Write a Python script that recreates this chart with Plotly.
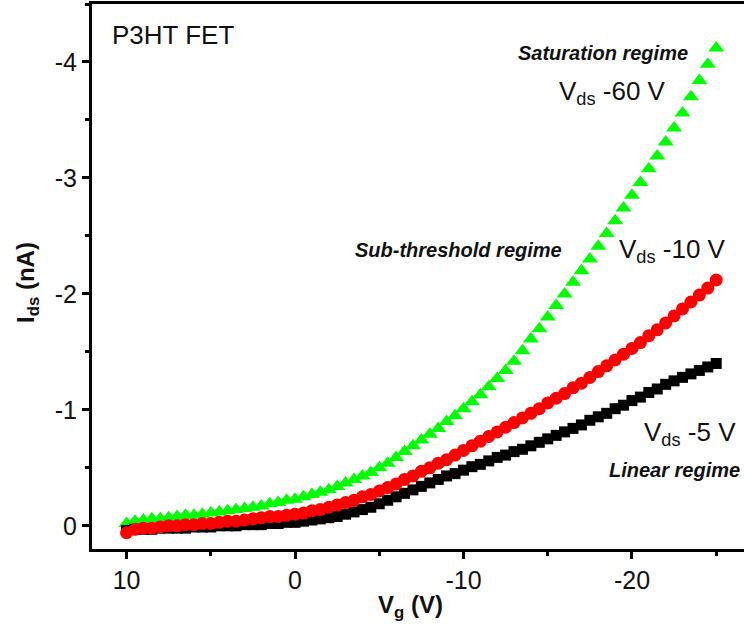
import plotly.graph_objects as go

# Gate voltage sweep (V)
vg = [10.0, 9.5, 9.0, 8.5, 8.0, 7.5, 7.0, 6.5, 6.0, 5.5, 5.0, 4.5, 4.0, 3.5, 3.0, 2.5,
      2.0, 1.5, 1.0, 0.5, 0.0, -0.5, -1.0, -1.5, -2.0, -2.5, -3.0, -3.5, -4.0, -4.5,
      -5.0, -5.5, -6.0, -6.5, -7.0, -7.5, -8.0, -8.5, -9.0, -9.5, -10.0, -10.5, -11.0,
      -11.5, -12.0, -12.5, -13.0, -13.5, -14.0, -14.5, -15.0, -15.5, -16.0, -16.5,
      -17.0, -17.5, -18.0, -18.5, -19.0, -19.5, -20.0, -20.5, -21.0, -21.5, -22.0,
      -22.5, -23.0, -23.5, -24.0, -24.5, -25.0]

# Ids (nA) at Vds = -60 V (saturation)
ids_60 = [-0.02, -0.04, -0.05, -0.06, -0.06, -0.07, -0.08, -0.09, -0.09, -0.10, -0.11,
          -0.12, -0.13, -0.14, -0.15, -0.16, -0.17, -0.19, -0.20, -0.22, -0.23, -0.25,
          -0.27, -0.29, -0.31, -0.34, -0.37, -0.40, -0.43, -0.46, -0.50, -0.54, -0.59,
          -0.64, -0.69, -0.74, -0.79, -0.84, -0.90, -0.95, -1.01, -1.07, -1.13, -1.20,
          -1.27, -1.34, -1.42, -1.51, -1.61, -1.70, -1.80, -1.90, -2.00, -2.10, -2.20,
          -2.30, -2.41, -2.52, -2.63, -2.74, -2.85, -2.96, -3.08, -3.19, -3.31, -3.43,
          -3.56, -3.70, -3.84, -3.98, -4.12]

# Ids (nA) at Vds = -10 V
ids_10 = [0.06, 0.03, 0.02, 0.02, 0.01, 0.00, 0.00, -0.01, -0.01, -0.02, -0.02, -0.03,
          -0.04, -0.04, -0.05, -0.06, -0.07, -0.08, -0.08, -0.09, -0.10, -0.11, -0.13,
          -0.14, -0.16, -0.18, -0.20, -0.22, -0.25, -0.27, -0.30, -0.33, -0.36, -0.40,
          -0.43, -0.47, -0.50, -0.54, -0.57, -0.61, -0.65, -0.69, -0.73, -0.77, -0.81,
          -0.85, -0.89, -0.93, -0.97, -1.01, -1.06, -1.10, -1.14, -1.19, -1.23, -1.28,
          -1.33, -1.38, -1.43, -1.48, -1.53, -1.58, -1.64, -1.69, -1.75, -1.81, -1.87,
          -1.93, -1.99, -2.05, -2.12]

# Ids (nA) at Vds = -5 V (linear)
ids_5 = [0.04, 0.03, 0.03, 0.03, 0.02, 0.02, 0.02, 0.02, 0.01, 0.01, 0.01, 0.00, 0.00,
         0.00, -0.01, -0.01, -0.01, -0.02, -0.02, -0.03, -0.03, -0.04, -0.05, -0.06,
         -0.07, -0.08, -0.10, -0.12, -0.14, -0.16, -0.19, -0.22, -0.25, -0.28, -0.31,
         -0.34, -0.37, -0.40, -0.43, -0.45, -0.48, -0.51, -0.53, -0.56, -0.59, -0.61,
         -0.64, -0.66, -0.69, -0.72, -0.75, -0.78, -0.81, -0.84, -0.87, -0.91, -0.94,
         -0.97, -1.01, -1.04, -1.08, -1.11, -1.15, -1.18, -1.22, -1.25, -1.28, -1.31,
         -1.34, -1.37, -1.40]

x_ticks = [10, 0, -10, -20]
y_ticks = [-4, -3, -2, -1, 0]

FONT = "Liberation Sans, Arial, sans-serif"
W, H = 744, 632
L, R, T, B = 92, 0, 4, 83
pw, ph = W - L - R, H - T - B


def px(x):
    return (x - L) / pw


def py(y):
    return (H - B - y) / ph


fig = go.Figure()
fig.add_trace(go.Scatter(x=vg, y=ids_60, mode="markers", name="Vds -60 V",
                         marker=dict(symbol="triangle-up", size=14, color="#00ff00",
                                     line=dict(width=0))))
fig.add_trace(go.Scatter(x=vg, y=ids_5, mode="markers", name="Vds -5 V",
                         marker=dict(symbol="square", size=11, color="#000000",
                                     line=dict(width=0))))
fig.add_trace(go.Scatter(x=vg, y=ids_10, mode="markers", name="Vds -10 V",
                         marker=dict(symbol="circle", size=13, color="#ff0000",
                                     line=dict(width=0))))

axis_common = dict(showgrid=False, zeroline=False, showline=True, linecolor="black",
                   linewidth=3, ticks="outside", ticklen=7, tickwidth=2.5,
                   tickcolor="black", tickfont=dict(family=FONT, size=25, color="#111"))

fig.update_xaxes(range=[12.05, -26.65], tickvals=x_ticks,
                 ticktext=[str(v) for v in x_ticks], mirror=True,
                 minor=dict(dtick=5, tick0=0, ticks="outside", ticklen=4, tickwidth=2.5,
                            tickcolor="black"),
                 **axis_common)
fig.update_yaxes(range=[0.2, -4.5], tickvals=y_ticks,
                 ticktext=[str(v) for v in y_ticks], mirror=False,
                 minor=dict(dtick=0.5, tick0=0, ticks="outside", ticklen=4, tickwidth=2.5,
                            tickcolor="black"),
                 **axis_common)

ann = []
reg = dict(family=FONT, size=26, color="#111")
ital = dict(family=FONT, size=20, color="#111", style="italic", weight="bold")
ann.append(dict(text="P3HT FET", x=px(110), y=py(35), xanchor="left", yanchor="middle", font=reg))
ann.append(dict(text="Saturation regime", x=px(603), y=py(53), xanchor="center", yanchor="middle", font=ital))
ann.append(dict(text="V<sub>ds</sub> -60 V", x=px(557), y=py(93), xanchor="left", yanchor="middle", font=reg))
ann.append(dict(text="Sub-threshold regime", x=px(564), y=py(250), xanchor="right", yanchor="middle", font=ital))
ann.append(dict(text="V<sub>ds</sub> -10 V", x=px(617), y=py(250), xanchor="left", yanchor="middle", font=reg))
ann.append(dict(text="V<sub>ds</sub> -5 V", x=px(642), y=py(433), xanchor="left", yanchor="middle", font=reg))
ann.append(dict(text="Linear regime", x=px(607), y=py(470), xanchor="left", yanchor="middle", font=ital))
ann.append(dict(text="<b>V<sub>g</sub> (V)</b>", x=px(410), y=py(607), xanchor="center", yanchor="middle",
                font=dict(family=FONT, size=24, color="#111")))
ann.append(dict(text="<b>I<sub>ds</sub> (nA)</b>", x=px(27), y=py(283), xanchor="center", yanchor="middle",
                textangle=-90, font=dict(family=FONT, size=24, color="#111")))
for a in ann:
    a.update(xref="paper", yref="paper", showarrow=False)

fig.update_layout(width=W, height=H, margin=dict(l=L, r=R, t=T, b=B, autoexpand=False),
                  paper_bgcolor="white", plot_bgcolor="white", showlegend=False,
                  annotations=ann)

fig.write_html("out.html")
